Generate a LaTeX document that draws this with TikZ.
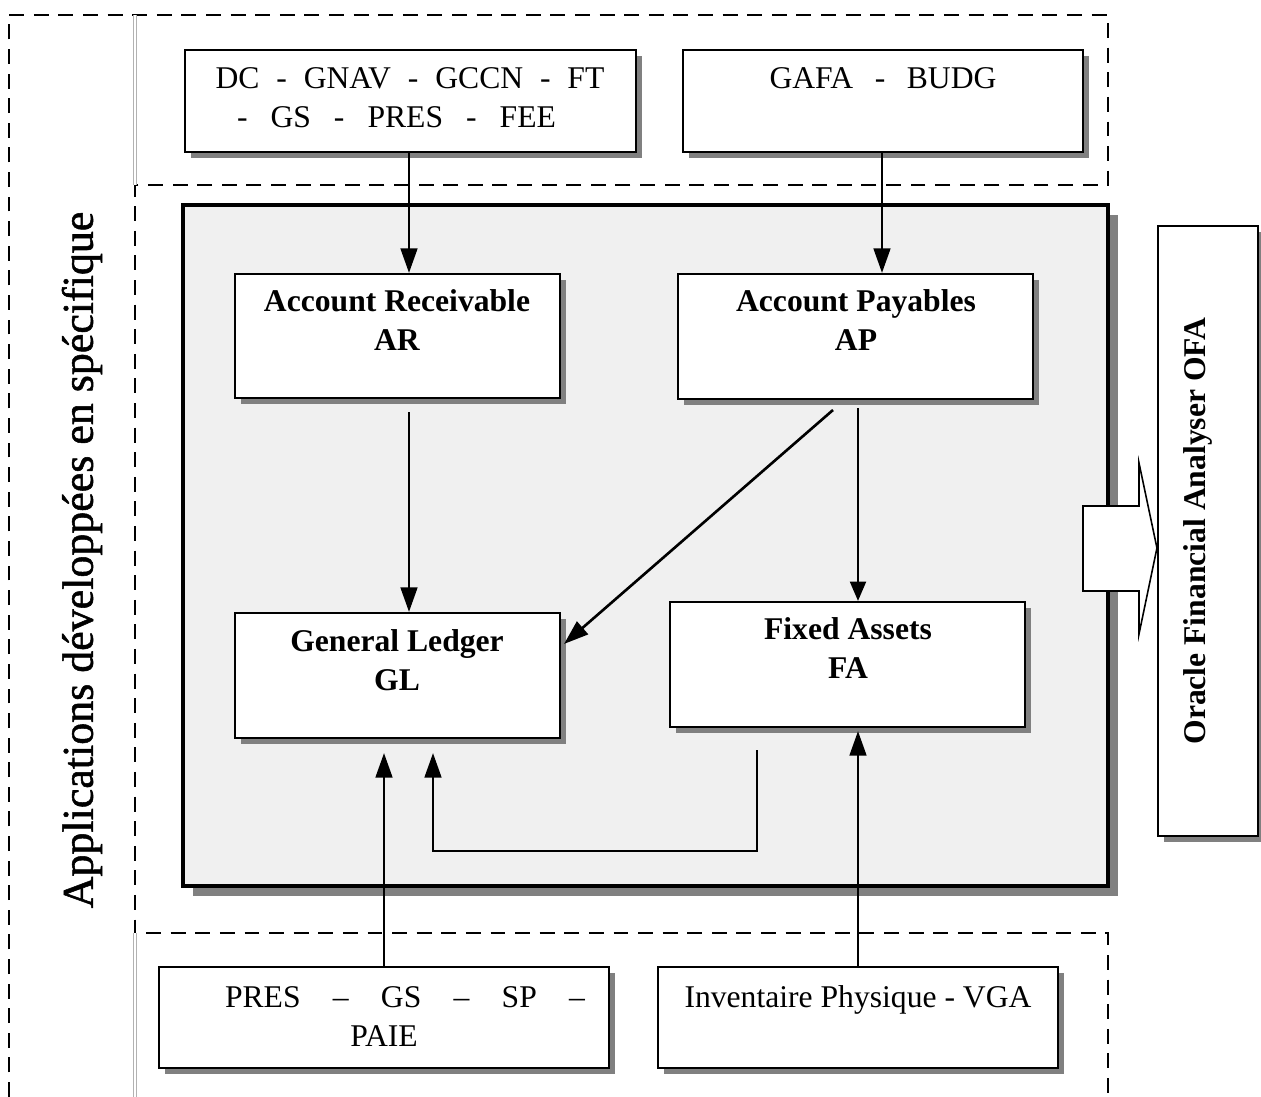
\documentclass[tikz,border=0pt]{standalone}
\usepackage{fontspec}
\setmainfont{Liberation Serif}
\newfontfamily\appsfont[FakeBold=1.2]{Liberation Serif}
\usetikzlibrary{shadows,fit,arrows.meta,calc}

\begin{document}
\begin{tikzpicture}[x=0.02cm,y=-0.02cm,
  region/.style={line width=1.1pt, dash pattern=on 8.5pt off 5.5pt},
  sepline/.style={draw=black!30, line width=0.35pt, double=white, double distance=1.2pt},
  box/.style={draw, fill=white, line width=1.2pt, inner sep=0pt,
    drop shadow={shadow xshift=3.4pt, shadow yshift=-3.4pt, fill=black!50, opacity=1}},
  bigbox/.style={draw, fill=black!6, line width=2.4pt, inner sep=0pt,
    drop shadow={shadow xshift=5.7pt, shadow yshift=-5.7pt, fill=black!50, opacity=1}},
  lbl/.style={inner sep=0pt, outer sep=0pt, anchor=north, align=center,
    font=\fontsize{18}{22}\selectfont},
  blbl/.style={lbl, font=\fontsize{18}{22}\selectfont\bfseries},
  flow/.style={line width=1.5pt},
  bigtip/.style={flow, -{Triangle[length=14pt, width=9.5pt]}},
  smalltip/.style={flow, -{Triangle[length=11pt, width=9pt]}},
]
\useasboundingbox (0,0) rectangle (1261,1097);

% dashed region borders
\draw[region] (9,1097) -- (9,15) -- (1108,15) -- (1108,185) -- (135,185)
  -- (135,933) -- (1108,933) -- (1108,1093);
% thin double separators
\draw[sepline] (135,15) -- (135,185);
\draw[sepline] (135,933) -- (135,1097);

% column positions of the connectors
\coordinate (colA) at (409,0);
\coordinate (colB) at (882,0);
\coordinate (colC) at (858,0);
\coordinate (colD) at (384,0);
\coordinate (colE) at (433,0);
\coordinate (colF) at (757,0);

% core modules frame
\node[bigbox, fit={(183,205) (1108,886)}] (core) {};

% source applications
\node[box, fit={(185,50) (636,152)}] (src1) {};
\node[box, fit={(683,50) (1083,152)}] (src2) {};
\node[box, fit={(159,967) (609,1068)}] (b1) {};
\node[box, fit={(658,967) (1058,1068)}] (b2) {};

% modules
\node[box, fit={(235,274) (560,398)}] (ar) {};
\node[box, fit={(678,274) (1033,399)}] (ap) {};
\node[box, fit={(235,613) (560,738)}] (gl) {};
\node[box, fit={(670,602) (1025,727)}] (fa) {};
\node[box, fit={(1158,226) (1258,836)}] (ofa) {};

% labels
\node[lbl] (src1t) at (410,68) {\makebox[7.78cm][s]{DC - GNAV - GCCN - FT}\\
  \makebox[6.38cm][s]{- GS - PRES - FEE}\rule{0.54cm}{0pt}};
\node[lbl] (src2t) at (883,68) {\makebox[4.54cm][s]{GAFA - BUDG}};
\node[lbl] (b1t) at (384,987) {\rule{0.84cm}{0pt}\makebox[7.2cm][s]{PRES – GS – SP –}\\PAIE};
\node[lbl] (b2t) at (858,986) {Inventaire Physique - VGA};

\node[blbl] (art) at (397,290) {Account Receivable\\AR};
\node[blbl] (apt) at (856,290) {Account Payables\\AP};
\node[blbl] (glt) at (397,630) {General Ledger\\GL};
\node[blbl] (fat) at (848,618) {Fixed Assets\\FA};

\node[rotate=90, inner sep=0pt, font=\fontsize{18}{22}\selectfont\bfseries] (ofat) at (1198,531)
  {Oracle Financial Analyser OFA};
\node[rotate=90, inner sep=0pt, font=\fontsize{25}{30}\appsfont] (apps) at (82,560)
  {Applications développées en spécifique};

% flows
\draw[bigtip] (src1.south -| colA) -- (ar.north -| colA);
\draw[bigtip] (src2.south -| colB) -- (ap.north -| colB);
\draw[bigtip] ($(ar.south -| colA)+(0,13)$) -- (gl.north -| colA);
\draw[bigtip] (833,410) -- ($(gl.north east)+(3,32)$);
\draw[smalltip] ($(ap.south -| colC)+(0,8)$) -- (fa.north -| colC);
\draw[bigtip] (b1.north -| colD) -- ($(gl.south -| colD)+(0,14)$);
\draw[bigtip] (b2.north -| colC) -- ($(fa.south -| colC)+(0,3)$);
\draw[bigtip] ($(fa.south -| colF)+(0,22)$) -- ++(0,101) -| ($(gl.south -| colE)+(0,14)$);

% export arrow towards the analyser
\draw[fill=white, line width=0.9pt, line join=miter]
  (1083,506) -- (1139,506) -- (1139,463) -- (ofa.west |- 0,548) -- (1139,634)
  -- (1139,591) -- (1083,591) -- cycle;
\end{tikzpicture}
\end{document}
